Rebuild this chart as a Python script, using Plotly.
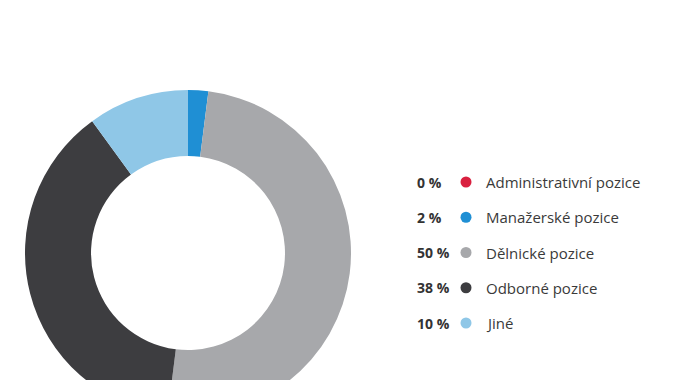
import plotly.graph_objects as go

# data
categories = ["Administrativní pozice", "Manažerské pozice", "Dělnické pozice", "Odborné pozice", "Jiné"]
values = [0, 2, 50, 38, 10]
colors = ["#d9203f", "#1f8fd4", "#a7a8ab", "#3d3d40", "#8fc7e7"]
pct_labels = [f"{v} %" for v in values]

W, H = 674, 416
TOP = 90

fig = go.Figure()

# donut (order: start at 12 o'clock, clockwise)
pie_order = [1, 2, 3, 4, 0]
fig.add_trace(go.Pie(
    labels=[categories[i] for i in pie_order],
    values=[values[i] for i in pie_order],
    marker=dict(colors=[colors[i] for i in pie_order], line=dict(width=0)),
    hole=0.595,
    sort=False,
    direction="clockwise",
    rotation=0,
    textinfo="none",
    hoverinfo="label+percent",
    domain=dict(x=[25 / W, 351 / W], y=[0, 1]),
    showlegend=False,
))

# legend dots
rows = list(range(len(categories)))
fig.add_trace(go.Scatter(
    x=[466] * len(categories), y=rows, mode="markers",
    marker=dict(size=11, color=colors, line=dict(width=0)),
    hoverinfo="skip", showlegend=False,
))

font_fam = "Open Sans, Lato, sans-serif"
annotations = []
for i, (p, c) in enumerate(zip(pct_labels, categories)):
    annotations.append(dict(x=415, y=i, xref="x", yref="y", text=f"<b>{p}</b>",
                            showarrow=False, xanchor="left", yanchor="middle",
                            font=dict(family=font_fam, size=14, color="#333333")))
    annotations.append(dict(x=484, y=i, xref="x", yref="y", text=c,
                            showarrow=False, xanchor="left", yanchor="middle",
                            font=dict(family=font_fam, size=15, color="#3a3a3a")))

row_px = 35.25
first_px = 182
top_val = -(first_px - TOP) / row_px
bot_val = top_val + (H - TOP) / row_px

fig.update_layout(
    width=W, height=H,
    margin=dict(l=0, r=0, t=TOP, b=0, pad=0),
    paper_bgcolor="white", plot_bgcolor="rgba(0,0,0,0)",
    xaxis=dict(range=[0, W], visible=False, fixedrange=True),
    yaxis=dict(range=[bot_val, top_val], visible=False, fixedrange=True),
    annotations=annotations,
)

fig.write_html("out.html", config={"displayModeBar": False},
               post_script="document.body.style.margin='0';document.body.style.overflow='hidden';document.documentElement.style.overflow='hidden';")
